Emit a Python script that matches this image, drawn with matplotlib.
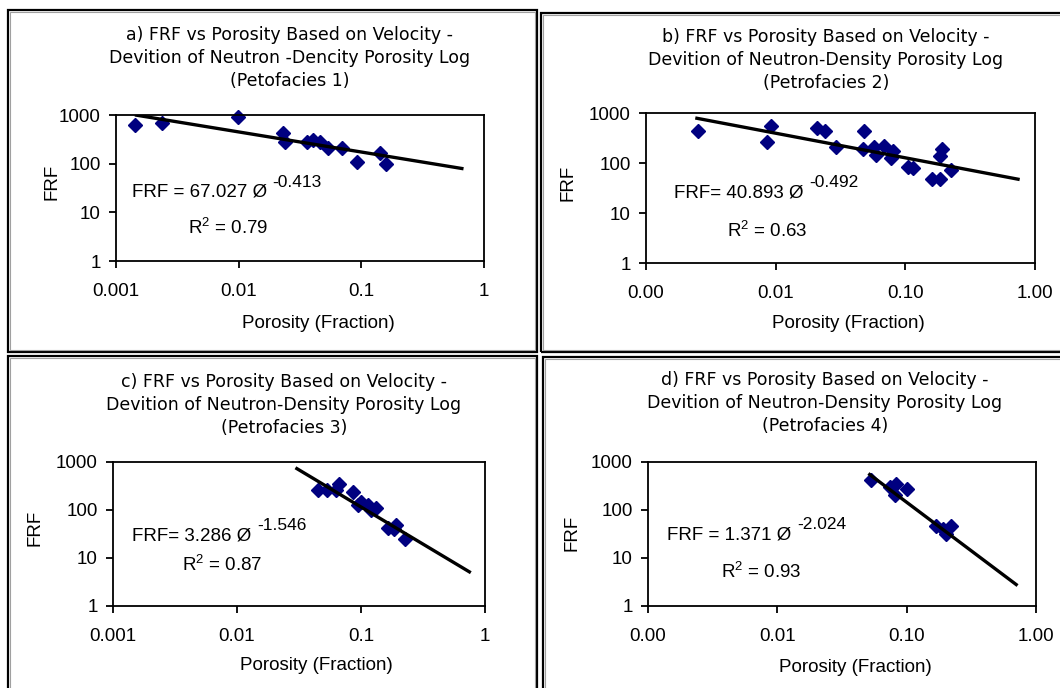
import matplotlib
matplotlib.use("Agg")
import matplotlib.pyplot as plt
import numpy as np
from matplotlib.patches import Rectangle
from matplotlib.ticker import FixedLocator, FixedFormatter, NullLocator

W, H = 1060, 688

# ---------------------------------------------------------------- data
a_poro = [0.00143, 0.00236, 0.0098, 0.0231, 0.0239, 0.0358, 0.0406, 0.046, 0.0538, 0.0692, 0.0927, 0.142, 0.158]
a_frf = [620, 690, 920, 420, 282, 282, 305, 282, 206, 206, 109, 162, 100]

b_poro = [0.0025, 0.0086, 0.0092, 0.021, 0.024, 0.029, 0.048, 0.047, 0.057, 0.059, 0.069, 0.078, 0.081,
          0.105, 0.115, 0.160, 0.184, 0.191, 0.184, 0.226]
b_frf = [445, 265, 545, 497, 446, 213, 446, 194, 213, 146, 222, 125, 170, 85, 80, 48, 48, 190, 136, 74]

c_poro = [0.045, 0.053, 0.067, 0.063, 0.086, 0.095, 0.10, 0.114, 0.12, 0.133, 0.164, 0.186, 0.19, 0.228]
c_frf = [262, 258, 355, 255, 240, 125, 150, 128, 100, 108, 43, 40, 48, 25]

d_poro = [0.053, 0.074, 0.083, 0.081, 0.10, 0.17, 0.19, 0.20, 0.22]
d_frf = [425, 300, 345, 206, 273, 47, 40, 32, 47]

# power-law trendlines: coefficient, exponent, x extent of the drawn line
fit_coef = [67.027, 40.893, 3.286, 1.371]
fit_exp = [-0.413, -0.492, -1.546, -2.024]
fit_range = [(0.00147, 0.66), (0.00247, 0.74), (0.0304, 0.748), (0.0518, 0.703)]

titles = [
    "a) FRF vs Porosity Based on Velocity -\nDevition of Neutron -Dencity Porosity Log\n(Petofacies 1)",
    "b) FRF vs Porosity Based on Velocity -\nDevition of Neutron-Density Porosity Log\n(Petrofacies 2)",
    "c) FRF vs Porosity Based on Velocity -\nDevition of Neutron-Density Porosity Log\n(Petrofacies 3)",
    "d) FRF vs Porosity Based on Velocity -\nDevition of Neutron-Density Porosity Log\n(Petrofacies 4)",
]
eq_main = ["FRF = 67.027 Ø", "FRF= 40.893 Ø", "FRF= 3.286 Ø", "FRF = 1.371 Ø"]
eq_sup = ["-0.413", "-0.492", "-1.546", "-2.024"]
r2_text = ["0.79", "0.63", "0.87", "0.93"]

x_ticks = [0.001, 0.01, 0.1, 1]
x_labels_a = ["0.001", "0.01", "0.1", "1"]
x_labels_b = ["0.00", "0.01", "0.10", "1.00"]
y_ticks = [1, 10, 100, 1000]
y_labels = ["1", "10", "100", "1000"]

# ---------------------------------------------------------------- layout (pixels)
boxes = [(8, 10, 537, 352), (541, 13, 1075, 352), (8, 356, 537, 700), (543, 357, 1075, 700)]
axes_px = [(116, 115, 484, 261), (646, 113, 1035, 263), (113, 462, 485, 606), (648, 462, 1036, 606)]
title_xy = [(290, 58), (826, 60), (284, 405), (825, 403)]
xlabel_xy = [(318, 323), (848, 323), (316, 665), (855, 667)]
ylabel_xy = [(52, 182), (568, 183), (35, 528), (572, 533)]
eq_pos = [(0.043, 0.47), (0.073, 0.47), (0.051, 0.488), (0.05, 0.493)]
r2_pos = [(0.196, 0.226), (0.209, 0.211), (0.185, 0.288), (0.188, 0.237)]

plt.rcParams["font.family"] = ["Liberation Sans", "DejaVu Sans"]
fig = plt.figure(figsize=(W / 100, H / 100), dpi=100)
fig.patch.set_facecolor("white")


def fxy(x, y):
    return x / W, 1 - y / H


# panel frames: black outer line with a grey inner line
for x0, y0, x1, y1 in boxes:
    fig.add_artist(Rectangle(fxy(x0, y1), (x1 - x0) / W, (y1 - y0) / H, transform=fig.transFigure,
                             fill=False, ec="black", lw=1.6))
    fig.add_artist(Rectangle(fxy(x0 + 2, y1 - 2), (x1 - x0 - 4) / W, (y1 - y0 - 4) / H,
                             transform=fig.transFigure, fill=False, ec="#a0a0a0", lw=0.8))

all_poro = [a_poro, b_poro, c_poro, d_poro]
all_frf = [a_frf, b_frf, c_frf, d_frf]

for i in range(4):
    l, t, r, b = axes_px[i]
    ax = fig.add_axes([l / W, 1 - b / H, (r - l) / W, (b - t) / H])
    ax.set_xscale("log")
    ax.set_yscale("log")
    ax.set_xlim(0.001, 1)
    ax.set_ylim(1, 1000)

    ax.plot(all_poro[i], all_frf[i], "D", color="#000080", ms=6.8, mec="#000080", zorder=2, clip_on=False)
    xs = np.array(fit_range[i])
    ax.plot(xs, fit_coef[i] * xs ** fit_exp[i], color="black", lw=2.4, zorder=3)

    ax.xaxis.set_major_locator(FixedLocator(x_ticks))
    ax.xaxis.set_major_formatter(FixedFormatter(x_labels_a if i in (0, 2) else x_labels_b))
    ax.yaxis.set_major_locator(FixedLocator(y_ticks))
    ax.yaxis.set_major_formatter(FixedFormatter(y_labels))
    ax.xaxis.set_minor_locator(NullLocator())
    ax.yaxis.set_minor_locator(NullLocator())
    ax.tick_params(axis="x", length=5, width=1.3, pad=11, labelsize=13.5)
    ax.tick_params(axis="y", length=5, width=1.3, pad=6, labelsize=13.5)
    for s in ax.spines.values():
        s.set_linewidth(1.3)

    te = ax.text(eq_pos[i][0], eq_pos[i][1], eq_main[i], transform=ax.transAxes,
                 ha="left", va="center", fontsize=13.5)
    ax.annotate(eq_sup[i], xy=(1, 0.5), xycoords=te, xytext=(4, 2), textcoords="offset points",
                ha="left", va="bottom", fontsize=12.5)
    ax.text(r2_pos[i][0], r2_pos[i][1], r"$\mathregular{R^2}$ = " + r2_text[i], transform=ax.transAxes,
            ha="left", va="center", fontsize=13.5)

    fig.text(*fxy(*title_xy[i]), titles[i], ha="center", va="center", fontsize=12.5,
             family="DejaVu Sans", linespacing=1.35)
    fig.text(*fxy(*xlabel_xy[i]), "Porosity (Fraction)", ha="center", va="center", fontsize=13.5)
    fig.text(*fxy(*ylabel_xy[i]), "FRF", ha="center", va="center", fontsize=13.5, rotation=90)

fig.savefig("out.png", dpi=100, facecolor="white")
